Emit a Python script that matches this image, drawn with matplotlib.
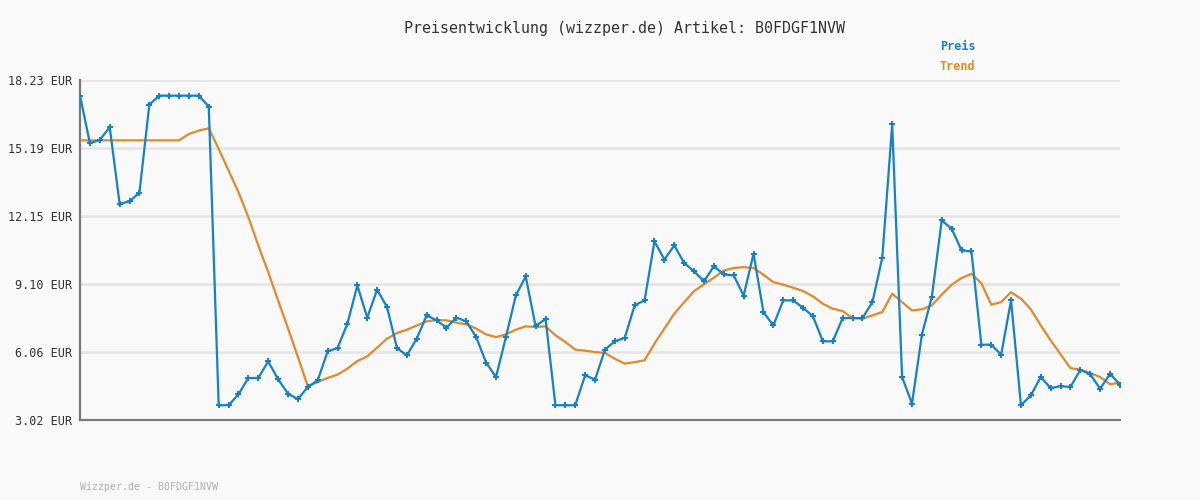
#!/usr/bin/env python3
import matplotlib
matplotlib.use("Agg")
import matplotlib.pyplot as plt

# price history (EUR)
preis = [
    17.53, 15.40, 15.55, 16.12, 12.69, 12.80, 13.19, 17.13, 17.53, 17.53,
    17.53, 17.53, 17.53, 17.04, 3.68, 3.68, 4.17, 4.90, 4.90, 5.64,
    4.84, 4.20, 3.95, 4.50, 4.79, 6.09, 6.24, 7.33, 9.04, 7.60,
    8.85, 8.07, 6.24, 5.91, 6.66, 7.70, 7.48, 7.15, 7.60, 7.43,
    6.73, 5.59, 4.94, 6.73, 8.59, 9.44, 7.21, 7.55, 3.68, 3.68,
    3.68, 5.02, 4.83, 6.17, 6.54, 6.70, 8.15, 8.37, 11.01, 10.20,
    10.83, 10.04, 9.67, 9.22, 9.90, 9.53, 9.49, 8.58, 10.46, 7.85,
    7.25, 8.37, 8.37, 8.04, 7.66, 6.54, 6.54, 7.58, 7.58, 7.58,
    8.29, 10.28, 16.24, 4.94, 3.75, 6.84, 8.52, 11.95, 11.58, 10.61,
    10.56, 6.39, 6.39, 5.94, 8.37, 3.68, 4.12, 4.94, 4.45, 4.53,
    4.50, 5.27, 5.06, 4.42, 5.09, 4.60,
]

trend = [
    15.53, 15.53, 15.53, 15.53, 15.53, 15.53, 15.53, 15.53, 15.53, 15.53,
    15.53, 15.82, 15.97, 16.07, 15.15, 14.18, 13.21, 12.09, 10.83, 9.64,
    8.37, 7.12, 5.84, 4.53, 4.72, 4.90, 5.05, 5.32, 5.66, 5.87,
    6.26, 6.66, 6.91, 7.06, 7.25, 7.43, 7.49, 7.48, 7.37, 7.30,
    7.11, 6.85, 6.73, 6.85, 7.06, 7.21, 7.18, 7.21, 6.81, 6.51,
    6.17, 6.12, 6.06, 6.02, 5.76, 5.54, 5.61, 5.69, 6.44, 7.11,
    7.78, 8.29, 8.79, 9.09, 9.39, 9.71, 9.82, 9.86, 9.82, 9.52,
    9.19, 9.07, 8.94, 8.79, 8.55, 8.22, 8.00, 7.89, 7.58, 7.55,
    7.70, 7.85, 8.67, 8.29, 7.92, 7.97, 8.15, 8.63, 9.07, 9.37,
    9.56, 9.14, 8.18, 8.29, 8.74, 8.45, 7.97, 7.25, 6.58, 5.96,
    5.34, 5.27, 5.12, 4.94, 4.62, 4.69,
]

y_ticks = [3.02, 6.06, 9.10, 12.15, 15.19, 18.23]
y_labels = ["3.02 EUR", "6.06 EUR", "9.10 EUR", "12.15 EUR", "15.19 EUR", "18.23 EUR"]

BLUE = "#1580cc"
ORANGE = "#e3892a"
BG = "#f9f9f9"
MONO = "DejaVu Sans Mono"


def main():
    fig = plt.figure(figsize=(12, 5), dpi=100, facecolor=BG)
    ax = fig.add_axes([80 / 1200, 80 / 500, 1040 / 1200, 340 / 500])
    ax.set_facecolor(BG)

    x = list(range(len(preis)))
    ax.plot(x, trend, color=ORANGE, linewidth=1.6, zorder=3)
    ax.plot(x, preis, color=BLUE, linewidth=1.6, marker="P", markersize=4,
            markeredgewidth=0, zorder=4)

    ax.set_xlim(0, len(preis) - 1)
    ax.set_ylim(y_ticks[0], y_ticks[-1])
    ax.set_yticks(y_ticks)
    ax.set_yticklabels(y_labels, fontfamily=MONO, fontsize=8.5, color="#333333")
    ax.set_xticks([])
    ax.tick_params(axis="y", length=0, pad=6)
    ax.grid(True, axis="y", color="#e4e4e4", linewidth=1.8, zorder=0)
    ax.set_axisbelow(True)

    for side in ("top", "right"):
        ax.spines[side].set_visible(False)
    for side in ("left", "bottom"):
        ax.spines[side].set_color("#7a7a7a")
        ax.spines[side].set_linewidth(1.6)

    fig.text(624 / 1200, 1 - 28 / 500, "Preisentwicklung (wizzper.de) Artikel: B0FDGF1NVW",
             ha="center", va="center", fontfamily=MONO, fontsize=10.8, color="#333333")
    fig.text(940 / 1200, 1 - 46 / 500, "Preis", ha="left", va="center",
             fontfamily=MONO, fontsize=8.5, fontweight="bold", color=BLUE)
    fig.text(940 / 1200, 1 - 67 / 500, "Trend", ha="left", va="center",
             fontfamily=MONO, fontsize=8.5, fontweight="bold", color=ORANGE)
    fig.text(80 / 1200, 1 - 487 / 500, "Wizzper.de - B0FDGF1NVW", ha="left", va="center",
             fontfamily=MONO, fontsize=7.2, color="#b0b0b0")

    fig.savefig("out.png", dpi=100, facecolor=BG)


if __name__ == "__main__":
    main()
